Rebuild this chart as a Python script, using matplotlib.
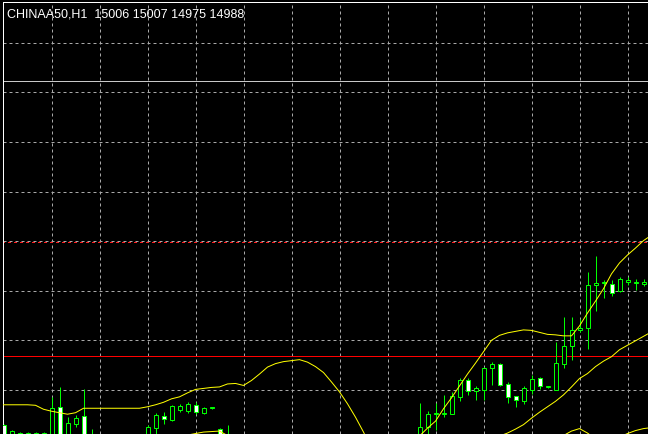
# -*- coding: utf-8 -*-
import matplotlib.pyplot as plt
from matplotlib.patches import Rectangle

symbol = 'CHINAA50,H1'

# H1 candles, one per bar slot (None = bar below the visible window)
opens = [14730, 14705, 14708, 14708, 14706, 14706, 14690, 14765, 14700, 14731,
         14747, 14695, None, None, None, None, None, None, 14695, 14724,
         14747, 14740, 14760, 14758, 14770, 14753, 14763, 14721, 14695, None,
         None, None, None, None, None, None, None, None, None, None,
         None, None, None, None, None, None, None, None, None, None,
         None, None, 14695, 14725, 14751, 14751, 14752, 14786, 14820, 14797,
         14800, 14844, 14852, 14811, 14787, 14778, 14800, 14823, 14805, 14800,
         14852, 14889, 14920, 14924, 15012, 15016, 15014, 15000, 15017, 15016,
         15013, 15006]
highs = [14732, 14719, 14716, 14716, 14716, 14715, 14786, 14805, 14745, 14750,
         14802, 14721, None, None, None, None, None, None, 14729, 14754,
         14755, 14769, 14772, 14775, 14775, 14766, 14766, 14723, 14729, None,
         None, None, None, None, None, None, None, None, None, None,
         None, None, None, None, None, None, None, None, None, None,
         None, None, 14773, 14758, 14773, 14790, 14795, 14825, 14824, 14808,
         14846, 14856, 14854, 14815, 14788, 14808, 14830, 14827, 14808, 14897,
         14946, 14946, 14943, 15037, 15069, 15022, 15022, 15028, 15027, 15024,
         15024, 15007]
lows = [14690, 14698, 14700, 14700, 14700, 14700, 14680, 14680, 14690, 14725,
        14680, 14680, None, None, None, None, None, None, 14680, 14705,
        14731, 14738, 14755, 14753, 14752, 14751, 14762, 14680, 14680, None,
        None, None, None, None, None, None, None, None, None, None,
        None, None, None, None, None, None, None, None, None, None,
        None, None, 14685, 14711, 14719, 14745, 14751, 14778, 14790, 14780,
        14780, 14810, 14807, 14774, 14766, 14771, 14792, 14802, 14804, 14799,
        14844, 14861, 14917, 14883, 14960, 14985, 14989, 14998, 15012, 15002,
        15010, 14975]
closes = [14700, 14717, 14714, 14714, 14713, 14713, 14764, 14695, 14733, 14743,
          14695, 14705, None, None, None, None, None, None, 14725, 14749,
          14742, 14767, 14768, 14772, 14755, 14764, 14765, 14695, 14705, None,
          None, None, None, None, None, None, None, None, None, None,
          None, None, None, None, None, None, None, None, None, None,
          None, None, 14726, 14752, 14753, 14753, 14788, 14820, 14797, 14803,
          14844, 14852, 14810, 14785, 14780, 14803, 14821, 14807, 14807, 14854,
          14889, 14921, 14925, 15012, 15016, 15018, 14995, 15024, 15022, 15018,
          15018, 14988]

# Bollinger bands
bb_upper = [14770, 14770, 14770, 14770, 14769, 14761, 14757, 14754, 14751, 14754,
            14763, 14763, 14763, 14763, 14763, 14763, 14763, 14763, 14766, 14770,
            14775, 14782, 14786, 14794, 14801, 14803, 14805, 14806, 14812, 14813,
            14809, 14819, 14832, 14846, 14853, 14857, 14859, 14861, 14856, 14847,
            14835, 14816, 14796, 14772, 14745, 14715, 14681, 14651, 14631, 14624,
            14641, 14677, 14707, 14723, 14737, 14762, 14784, 14808, 14832, 14854,
            14877, 14900, 14910, 14915, 14918, 14921, 14920, 14916, 14912, 14911,
            14909, 14909, 14929, 14955, 14979, 15004, 15034, 15056, 15072, 15086,
            15101, 15112]
bb_mid = [14664, 14664, 14665, 14665, 14665, 14666, 14666, 14666, 14667, 14667,
          14668, 14668, 14669, 14670, 14672, 14674, 14677, 14685, 14691, 14697,
          14701, 14703, 14706, 14709, 14712, 14715, 14716, 14717, 14708, 14697,
          14681, 14665, 14649, 14633, 14616, 14600, 14584, 14570, 14556, 14544,
          14534, 14526, 14520, 14516, 14516, 14520, 14528, 14540, 14554, 14570,
          14586, 14602, 14618, 14635, 14649, 14661, 14673, 14683, 14691, 14697,
          14701, 14704, 14707, 14713, 14721, 14730, 14743, 14755, 14766, 14777,
          14790, 14806, 14823, 14833, 14847, 14858, 14867, 14881, 14890, 14899,
          14908, 14917]
bb_lower = [14560, 14560, 14561, 14561, 14562, 14562, 14563, 14563, 14564, 14564,
            14575, 14576, 14577, 14578, 14579, 14580, 14588, 14604, 14616, 14628,
            14627, 14624, 14626, 14624, 14623, 14626, 14627, 14628, 14604, 14581,
            14553, 14511, 14466, 14420, 14379, 14343, 14309, 14279, 14256, 14241,
            14233, 14236, 14244, 14260, 14287, 14325, 14375, 14429, 14477, 14516,
            14531, 14527, 14529, 14547, 14561, 14560, 14562, 14558, 14550, 14540,
            14525, 14508, 14504, 14530, 14560, 14590, 14620, 14650, 14672, 14690,
            14708, 14717, 14722, 14713, 14701, 14693, 14697, 14705, 14712, 14718,
            14722, 14724]

# horizontal levels
level_gray = 15423
level_red_dotted = 15099
level_red = 14869

PX = 0.72  # one pixel in points at dpi 100
LIME = '#00ff00'

fig = plt.figure(figsize=(6.48, 4.35), dpi=100, facecolor='black')
ax = fig.add_axes([2.5 / 648, 0, 645.5 / 648, 432.5 / 435])
ax.set_facecolor('black')
ax.set_xlim(-0.125, 80.5625)
ax.set_ylim(14711.1, 15583.1)

ax.set_yticks(range(14800, 15600, 100))
ax.set_xticks(range(6, 81, 6))
ax.grid(True, color='#a8a8a8', linestyle=(0, (3, 3)), linewidth=PX, zorder=1)
ax.set_axisbelow(True)
ax.tick_params(length=0, labelleft=False, labelbottom=False)
for side in ['bottom', 'right']:
    ax.spines[side].set_visible(False)
for side in ['top', 'left']:
    ax.spines[side].set_color('white')
    ax.spines[side].set_linewidth(PX)

ax.axhline(level_gray, color='#c8c8c8', lw=PX, zorder=0.9)
ax.axhline(level_red_dotted, color='#ff2020', lw=PX, ls=(1.5, (3, 3)), zorder=0.9)
ax.axhline(level_red, color='#ff0000', lw=PX, zorder=0.9)

for k in range(len(opens)):
    o, h, l, c = opens[k], highs[k], lows[k], closes[k]
    if o is None:
        continue
    ax.vlines(k, l, h, colors=LIME, lw=PX, zorder=2)
    face = 'black' if c >= o else 'white'
    ax.add_patch(Rectangle((k - 0.25, min(o, c)), 0.5, abs(c - o),
                           facecolor=face, edgecolor=LIME, lw=PX, zorder=3))

xs = list(range(len(bb_upper)))
for band in [bb_upper, bb_mid, bb_lower]:
    ax.plot(xs, band, color='#ffff00', lw=PX, zorder=4)

title = '%s  %d %d %d %d' % (symbol, opens[-1], highs[-1], lows[-1], closes[-1])
fig.text(7 / 648, 1 - 17.3 / 435, title, color='white', fontsize=9,
         family='Liberation Sans', va='baseline', ha='left')

plt.savefig('out.png', dpi=100, facecolor='black')
